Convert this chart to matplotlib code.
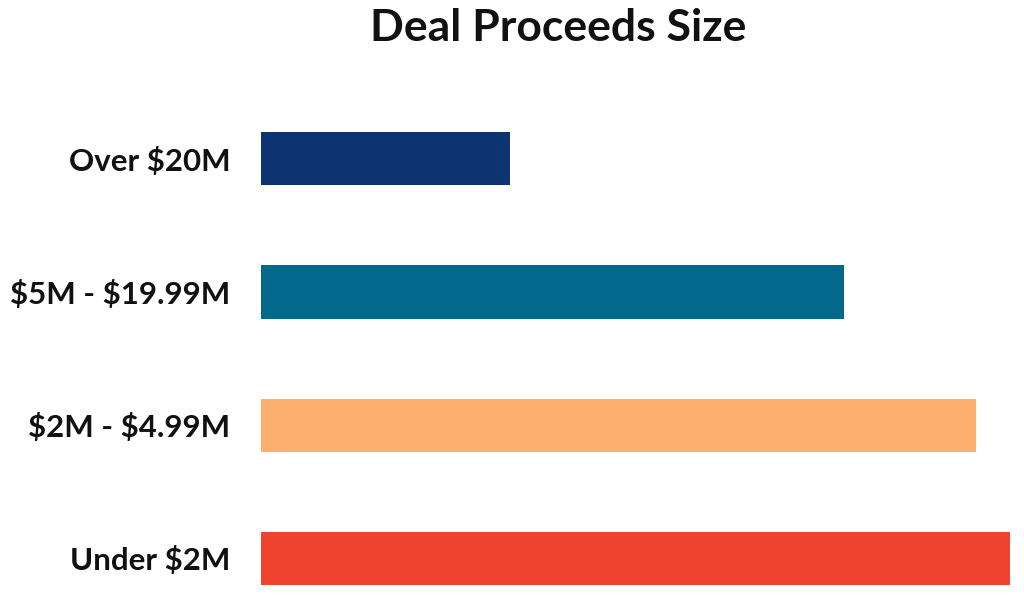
import matplotlib.pyplot as plt

plt.rcParams['font.family'] = ['Lato', 'DejaVu Sans']

categories = ["Under \\$2M", "\\$2M - \\$4.99M", "\\$5M - \\$19.99M", "Over \\$20M"]
values = [74.9, 71.5, 58.3, 24.9]
colors = ["#F0432F", "#FDAF6F", "#02698C", "#0C3470"]

fig = plt.figure(figsize=(10.24, 6.1), dpi=100)
# axes placed in pixel terms of the 1024x610 canvas
ax = fig.add_axes([261 / 1024, 0, (1010 - 261) / 1024, (610 - 92) / 610])

ypos = list(range(len(categories)))
ax.barh(ypos, values, height=0.4, color=colors)

ax.set_xlim(0, max(values))
ax.set_ylim(-0.387, 3.5)
ax.set_yticks(ypos)
ax.set_yticklabels(categories, fontsize=22.5, fontweight="bold", color="#111111")
ax.tick_params(axis="y", length=0, pad=22)
ax.set_xticks([])
for s in ax.spines.values():
    s.set_visible(False)

fig.text(558 / 1024, 1 - 28 / 610, "Deal Proceeds Size", ha="center", va="center",
         fontsize=32, fontweight="bold", color="#111111")

fig.savefig("out.png", dpi=100)
